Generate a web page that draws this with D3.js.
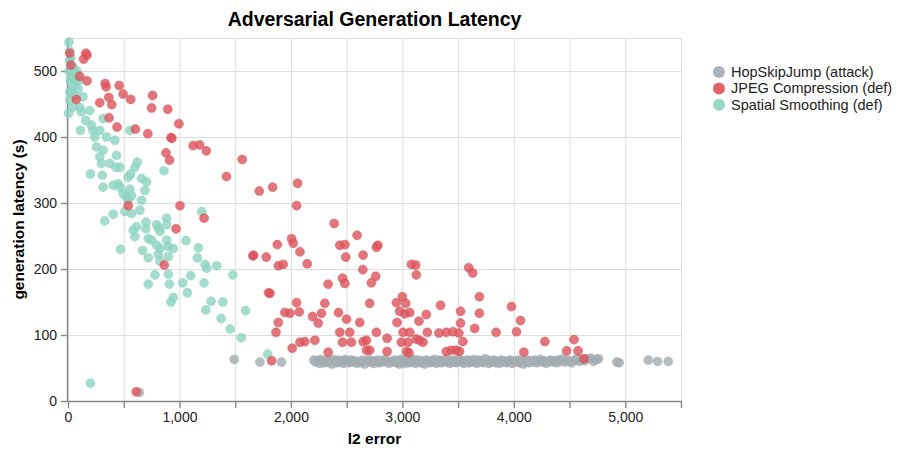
<!DOCTYPE html>
<html>
<head>
<meta charset="utf-8">
<script src="https://cdn.jsdelivr.net/npm/d3@7"></script>
<style>
  body { margin: 0; background: #fff; }
  svg { display: block; font-family: "Liberation Sans", Arial, Helvetica, sans-serif; }
  .grid line { stroke: #ddd; stroke-width: 1; }
  .axis path, .axis line { stroke: #888; stroke-width: 1.4; }
  .axis text { fill: #222; font-size: 14px; }
</style>
</head>
<body>
<div id="chart"></div>
<script>
// series names, colours in legend order
const seriesNames = ["HopSkipJump (attack)", "JPEG Compression (def)", "Spatial Smoothing (def)"];
const seriesColors = ["#a3acb1", "#dc545b", "#8dd4c1"];

const xTicks = [0, 1000, 2000, 3000, 4000, 5000];
const yTicks = [0, 100, 200, 300, 400, 500];

// [l2 error, latency (s)]
const hopSkipJump = [
  [640,13],[1491,63],[1722,59],[1916,59],
  [2205,62],[2222,59],[2240,61],[2258,57],[2270,63],[2289,60],[2301,58],[2318,62],[2335,59],[2350,61],
  [2366,56],[2380,63],[2395,60],[2412,58],[2425,62],[2441,59],[2458,61],[2470,57],[2490,63],[2505,60],
  [2522,58],[2540,62],[2551,59],[2570,61],[2590,57],[2612,60],[2630,58],[2645,62],[2662,56],[2680,60],
  [2695,63],[2712,59],[2728,61],[2745,57],[2760,60],[2778,62],[2790,58],[2805,61],[2822,59],[2840,63],
  [2862,60],[2880,57],[2905,61],[2922,59],[2938,62],[2950,58],[2962,60],[2975,56],[2988,63],[3000,59],
  [3012,61],[3025,57],[3038,62],[3050,60],[3063,58],[3077,61],[3090,59],[3102,63],[3118,57],[3130,60],
  [3145,62],[3160,58],[3172,61],[3188,59],[3200,56],[3215,62],[3230,60],[3245,58],[3260,61],[3272,59],
  [3290,63],[3305,57],[3320,60],[3336,62],[3350,58],[3365,61],[3380,59],[3396,64],[3410,60],[3425,57],
  [3440,61],[3452,59],[3468,62],[3481,58],[3495,60],[3510,63],[3525,59],[3540,61],[3552,57],[3568,60],
  [3582,62],[3597,58],[3610,61],[3625,59],[3640,63],[3655,60],[3668,57],[3684,62],[3700,59],[3715,61],
  [3730,58],[3745,64],[3760,60],[3776,57],[3790,61],[3805,59],[3822,62],[3838,58],[3852,60],[3870,57],
  [3885,62],[3900,59],[3918,61],[3935,58],[3950,60],[3968,62],[3985,57],[4000,60],[4018,59],[4035,62],
  [4050,58],[4068,61],[4085,56],[4100,60],[4118,62],[4135,58],[4150,61],[4170,59],[4188,62],[4205,58],
  [4222,60],[4240,63],[4258,59],[4275,61],[4292,57],[4310,60],[4330,62],[4348,59],[4365,61],[4385,58],
  [4400,62],[4420,60],[4440,64],[4460,59],[4480,62],[4500,60],[4520,58],[4545,62],[4568,64],[4590,60],
  [4612,63],[4635,61],[4660,64],[4690,65],[4715,60],[4740,63],[4760,64],
  [4924,59],[4945,58],[5206,62],[5290,60],[5386,60]
];

const jpegCompression = [
  [15,527],[25,509],[140,518],[160,527],[170,524],[105,492],[171,485],[75,457],[333,481],[342,476],
  [459,478],[495,465],[563,457],[285,452],[366,460],[393,449],[759,463],[750,444],[895,442],[369,429],
  [440,415],[605,412],[716,405],[995,420],[924,399],[932,398],[1123,387],[1181,388],[1241,379],[1563,366],
  [879,376],[911,365],[1422,340],[1716,318],[1836,324],[2060,330],[2051,296],[540,296],[1005,296],[1221,277],
  [2388,269],[969,261],[864,206],[1659,220],[1665,221],[1779,218],[1800,164],[1827,61],[612,14],
  [2594,251],[2439,236],[2484,237],[2767,233],[2780,236],[1878,237],[2006,246],[2021,239],[2081,226],
  [2146,208],[1887,205],[1931,207],[2492,218],[2648,221],[2645,199],[3081,207],[3119,206],[3125,191],
  [2463,186],[2484,178],[2761,189],[2722,179],[3595,202],[3631,194],[1812,163],[2334,177],
  [2051,149],[2304,148],[1946,134],[1991,133],[2075,135],[2275,133],[2194,128],[2245,118],[1887,119],
  [1866,104],[2427,134],[2499,124],[2618,119],[2707,148],[2946,149],[3000,158],[3030,148],[2976,136],
  [3021,132],[3066,134],[3215,131],[3149,121],[2952,119],[3343,145],[3522,136],[3522,118],
  [2439,104],[2528,104],[2767,104],[2863,95],[3006,104],[3066,104],[3224,104],[3328,103],[3394,104],
  [3454,105],[3507,103],[2215,92],[2081,89],[2125,90],[2012,80],[2463,89],[2543,89],[2648,90],[2678,92],
  [2678,77],[2707,77],[2334,74],[2863,75],[2991,89],[3051,89],[3125,94],[3155,92],[3185,89],[3036,75],
  [3060,73],[3394,75],[3439,77],[3483,77],[3513,75],[3543,90],[3691,158],[3691,133],[3979,143],[3649,110],
  [3841,104],[4060,122],[4024,105],[4279,90],[4090,74],[4540,93],[4474,76],[4576,76],[4630,64]
];

const spatialSmoothing = [
  [9,544],[15,530],[25,520],[15,516],[45,506],[60,498],[30,491],[75,486],[45,478],[90,473],
  [15,468],[60,463],[15,456],[45,445],[135,461],[105,445],[120,438],[195,440],[10,500],[20,485],
  [80,500],[100,485],[30,470],[5,436],[159,425],[111,410],[210,418],[225,410],[240,400],[285,410],
  [315,428],[345,400],[420,395],[255,385],[315,380],[285,370],[300,360],[375,360],[435,372],[429,354],
  [465,354],[201,344],[309,342],[315,324],[405,327],[450,329],[465,324],[540,339],[561,344],[600,354],
  [621,362],[555,321],[495,314],[525,309],[540,304],[570,311],[660,337],[705,332],[690,319],[660,304],
  [861,349],[645,289],[570,284],[510,287],[1200,287],[555,410],
  [330,273],[405,283],[615,264],[585,259],[600,249],[699,271],[699,261],[795,267],[825,257],[810,262],
  [885,277],[885,267],[720,246],[750,244],[795,236],[825,231],[885,244],[945,231],[900,234],[471,230],
  [669,228],[720,217],[810,222],[900,219],[825,212],[1059,243],[1170,232],[1161,217],[1230,207],[1245,201],
  [1335,205],[780,191],[900,192],[720,177],[909,177],[1029,179],[1101,190],[1221,179],[1071,164],[945,157],
  [924,150],[1479,191],[1284,151],[1389,150],[1236,138],[1593,137],[1374,125],[1455,109],[1554,96],
  [1791,71],[201,27]
];

const seriesData = [hopSkipJump, jpegCompression, spatialSmoothing];
const drawOrder = [0, 2, 1];

const width = 898, height = 455;
const plot = { left: 68, right: 681, top: 38, bottom: 401 };

const svg = d3.select("#chart").append("svg")
  .attr("width", width)
  .attr("height", height);

svg.append("rect").attr("width", width).attr("height", height).attr("fill", "#fff");

const x = d3.scaleLinear().domain([0, 5500]).range([plot.left, plot.right]);
const y = d3.scaleLinear().domain([0, 550]).range([plot.bottom, plot.top]);

// grid
const grid = svg.append("g").attr("class", "grid");
grid.selectAll("line.v")
  .data(d3.range(0, 5501, 500))
  .join("line")
  .attr("x1", d => x(d) + 0.5).attr("x2", d => x(d) + 0.5)
  .attr("y1", plot.top).attr("y2", plot.bottom);
grid.selectAll("line.h")
  .data(yTicks.concat([550]))
  .join("line")
  .attr("x1", plot.left).attr("x2", plot.right)
  .attr("y1", d => y(d) + 0.5).attr("y2", d => y(d) + 0.5);

// axes
const xAxis = d3.axisBottom(x)
  .tickValues(d3.range(0, 5501, 500))
  .tickSize(7)
  .tickPadding(4)
  .tickFormat(d => xTicks.includes(d) ? d3.format(",")(d) : "");
svg.append("g")
  .attr("class", "axis")
  .attr("transform", `translate(0,${plot.bottom})`)
  .call(xAxis)
  .call(g => g.select(".domain").attr("d", `M${plot.left},0.5H${plot.right}`));

const yAxis = d3.axisLeft(y)
  .tickValues(yTicks)
  .tickSize(7)
  .tickPadding(4);
svg.append("g")
  .attr("class", "axis")
  .attr("transform", `translate(${plot.left},0)`)
  .call(yAxis)
  .call(g => g.select(".domain").attr("d", `M-0.5,${plot.bottom}V${plot.top}`));

// points
drawOrder.forEach(i => {
  svg.append("g")
    .selectAll("circle")
    .data(seriesData[i])
    .join("circle")
    .attr("cx", d => x(d[0]))
    .attr("cy", d => y(d[1]))
    .attr("r", 4.5)
    .attr("fill", seriesColors[i])
    .attr("fill-opacity", 0.8)
    .attr("stroke", seriesColors[i])
    .attr("stroke-opacity", 0.5)
    .attr("stroke-width", 1);
});

// titles
svg.append("text")
  .attr("x", (plot.left + plot.right) / 2)
  .attr("y", 26)
  .attr("text-anchor", "middle")
  .attr("font-size", 19.5)
  .attr("font-weight", "bold")
  .attr("fill", "#000")
  .text("Adversarial Generation Latency");

svg.append("text")
  .attr("x", (plot.left + plot.right) / 2)
  .attr("y", 444)
  .attr("text-anchor", "middle")
  .attr("font-size", 15.5)
  .attr("font-weight", "bold")
  .attr("fill", "#000")
  .text("l2 error");

svg.append("text")
  .attr("transform", `translate(24,${(plot.top + plot.bottom) / 2}) rotate(-90)`)
  .attr("text-anchor", "middle")
  .attr("font-size", 15.5)
  .attr("font-weight", "bold")
  .attr("fill", "#000")
  .text("generation latency (s)");

// legend
const legend = svg.append("g").attr("transform", "translate(719,72)");
const rows = legend.selectAll("g")
  .data(seriesNames)
  .join("g")
  .attr("transform", (d, i) => `translate(0,${i * 16.4})`);
rows.append("circle")
  .attr("r", 6)
  .attr("fill", (d, i) => seriesColors[i])
  .attr("fill-opacity", 0.9);
rows.append("text")
  .attr("x", 12)
  .attr("dy", "0.35em")
  .attr("font-size", 14.5)
  .attr("fill", "#222")
  .text(d => d);
</script>
</body>
</html>
